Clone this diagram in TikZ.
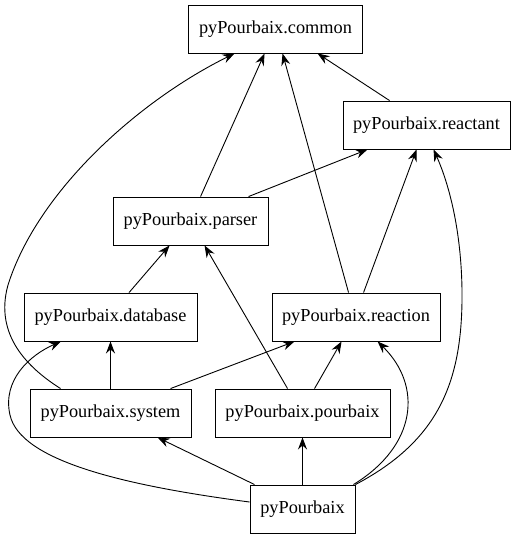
\documentclass[tikz,border=0pt]{standalone}
\usepackage{fontspec}
\setmainfont{Liberation Serif}
\usetikzlibrary{arrows.meta}
\begin{document}
\begin{tikzpicture}[x=1pt,y=-1pt,
  mod/.style={draw,line width=0.9pt,rectangle,minimum height=48pt,inner sep=0pt,
    font=\fontsize{18.3}{22}\selectfont},
  dep/.style={line width=0.9pt,-{Stealth[length=12pt,width=9pt,inset=4pt]}}]
\useasboundingbox (0,0) rectangle (515,539);
\node[mod,minimum width=174pt] (common) at (275.5,29) {pyPourbaix.common};
\node[mod,minimum width=167pt] (reactant) at (426.5,125) {pyPourbaix.reactant};
\node[mod,minimum width=155pt] (parser) at (190.5,221) {pyPourbaix.parser};
\node[mod,minimum width=173pt] (database) at (110.5,317) {pyPourbaix.database};
\node[mod,minimum width=168pt] (reaction) at (356,317) {pyPourbaix.reaction};
\node[mod,minimum width=161pt] (system) at (110.5,413) {pyPourbaix.system};
\node[mod,minimum width=175pt] (pourbaix) at (302.5,413) {pyPourbaix.pourbaix};
\node[mod,minimum width=105pt] (pyp) at (302.5,509) {pyPourbaix};

\draw[dep] ([xshift=47pt]reactant.north west) -- ([xshift=129.5pt]common.south west);
\draw[dep] ([xshift=88pt]parser.north west) -- ([xshift=76.5pt]common.south west);
\draw[dep] ([xshift=77pt]reaction.north west) -- ([xshift=94.5pt]common.south west);
\draw[dep] ([xshift=31pt]system.north west) .. controls (28,368) and (-6,335) .. (8,285)
  .. controls (38,190) and (140,100) .. ([xshift=46.5pt]common.south west);
\draw[dep] ([xshift=136pt]parser.north west) -- ([xshift=25pt]reactant.south west);
\draw[dep] ([xshift=92pt]reaction.north west) -- ([xshift=74pt]reactant.south west);
\draw[dep] (pyp.north east) .. controls (440,440) and (463,380) .. (462,290)
  .. controls (461,220) and (445,175) .. ([xshift=91pt]reactant.south west);
\draw[dep] ([xshift=105.5pt]database.north west) -- ([xshift=57pt]parser.south west);
\draw[dep] ([xshift=73pt]pourbaix.north west) -- ([xshift=92pt]parser.south west);
\draw[dep] (system.north) -- (database.south);
\draw[dep] ([yshift=7pt]pyp.west) .. controls (120,485) and (20,460) .. (10,415)
  .. controls (2,380) and (30,355) .. ([xshift=37.5pt]database.south west);
\draw[dep] ([xshift=141pt]system.north west) -- ([xshift=23pt]reaction.south west);
\draw[dep] ([xshift=100pt]pourbaix.north west) -- ([xshift=70pt]reaction.south west);
\draw[dep] ([xshift=-2pt]pyp.north east) .. controls (418,445) and (422,385) .. ([xshift=106pt]reaction.south west);
\draw[dep] ([xshift=5pt]pyp.north west) -- ([xshift=128pt]system.south west);
\draw[dep] (pyp.north) -- (pourbaix.south);
\end{tikzpicture}
\end{document}
